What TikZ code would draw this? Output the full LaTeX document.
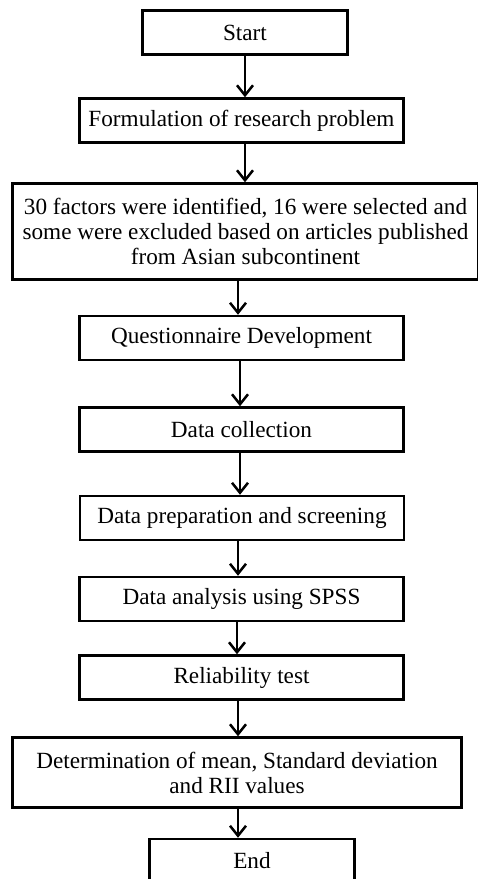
\documentclass[tikz,border=0pt]{standalone}
\usepackage{fontspec}
\setmainfont{Liberation Serif}
\usepackage{tikz}
\usetikzlibrary{arrows.meta}

\tikzset{
  box/.style={draw, line width=2.5pt, align=center, inner sep=0pt,
    font=\fontsize{23.2}{25}\selectfont, minimum height=44pt},
  arr/.style={-{Straight Barb[length=10pt,width=16pt]}, line width=2.5pt},
}

\begin{document}
\begin{tikzpicture}[x=1pt,y=-1pt]
    \useasboundingbox (0,0) rectangle (478,879);
    \node[box, minimum width=205] (start) at (245,   32.5) {Start};
    \node[box, minimum width=324] (form)  at (241.5, 120.5) {Formulation of research problem};
    \node[box, minimum width=466, minimum height=96] (fact) at (245.5, 231.5)
      {30 factors were identified, 16 were selected and\\
       some were excluded based on articles published\\
       from Asian subcontinent};
    \node[box, minimum width=324] (quest) at (241.5, 338)   {Questionnaire Development};
    \node[box, minimum width=324] (coll)  at (241.5, 429.5) {Data collection};
    \node[box, minimum width=324] (prep)  at (242,   518)   {Data preparation and screening};
    \node[box, minimum width=324] (anal)  at (241.5, 599)   {Data analysis using SPSS};
    \node[box, minimum width=324] (rel)   at (241.5, 677.5) {Reliability test};
    \node[box, minimum width=449, minimum height=70] (det) at (237, 772.5)
      {Determination of mean, Standard deviation\\ and RII values};
    \node[box, minimum width=205] (end)   at (252,   861)   {End};
    \draw (start) edge[arr] (start |- form.north);
    \draw (start |- form.south) edge[arr] (start |- fact.north);
    \draw (238,0 |- fact.south) edge[arr] (238,0 |- quest.north);
    \draw (240,0 |- quest.south) edge[arr] (240,0 |- coll.north);
    \draw (240,0 |- coll.south) edge[arr] (240,0 |- prep.north);
    \draw (238,0 |- prep.south) edge[arr] (238,0 |- anal.north);
    \draw (237,0 |- anal.south) edge[arr] (237,0 |- rel.north);
    \draw (238,0 |- rel.south) edge[arr] (238,0 |- det.north);
    \draw (238,0 |- det.south) edge[arr] (238,0 |- end.north);
  \end{tikzpicture}
\end{document}
